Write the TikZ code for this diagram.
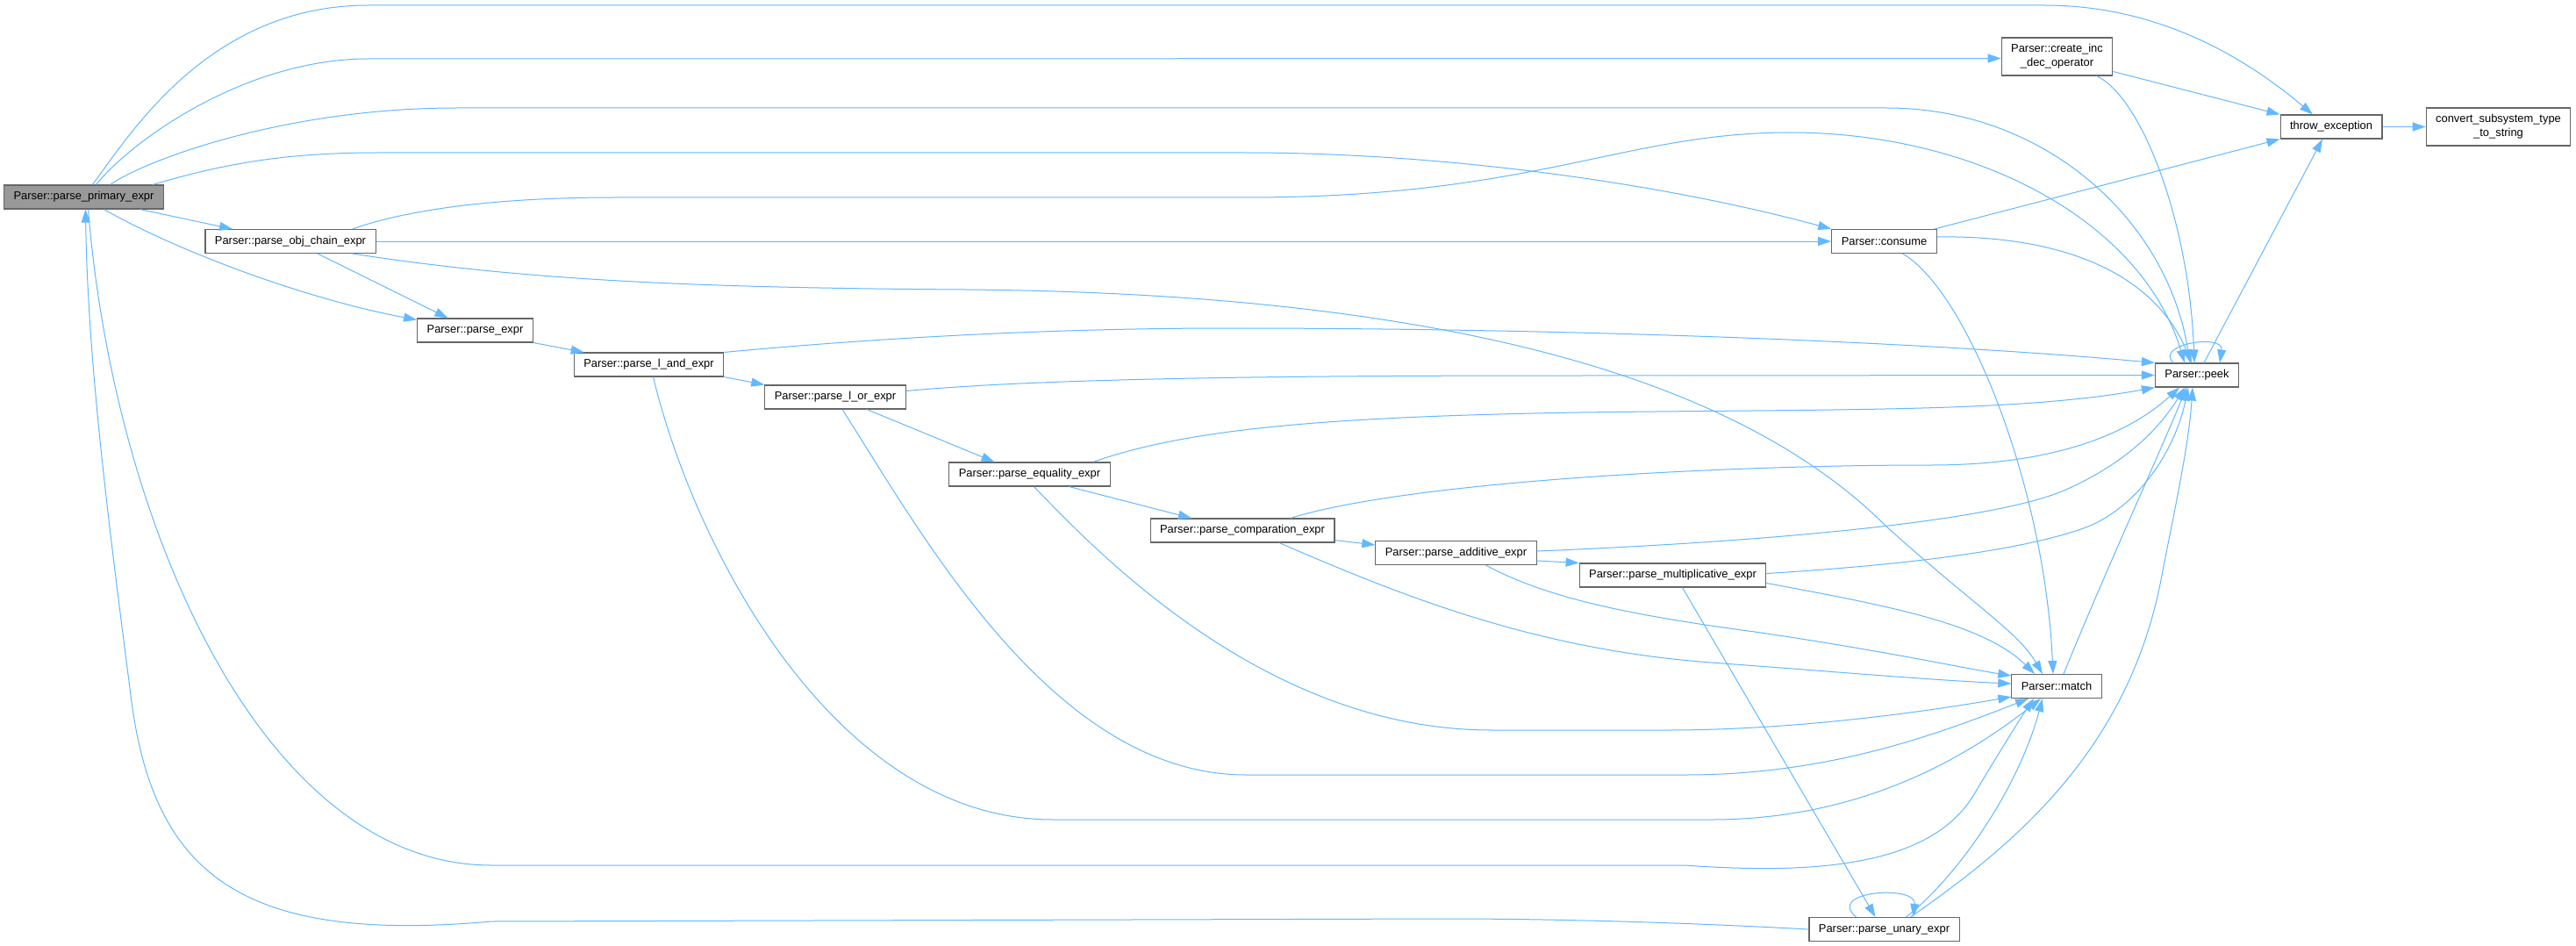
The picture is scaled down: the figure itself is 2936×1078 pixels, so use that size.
\documentclass[tikz,border=0pt]{standalone}
\usepackage{fontspec}
\setmainfont{Liberation Sans}
\usetikzlibrary{arrows.meta}
\definecolor{edgeblue}{RGB}{99,184,255}
\definecolor{boxline}{RGB}{102,102,102}
\definecolor{curfill}{RGB}{153,153,153}
\tikzstyle{fnbox}=[draw=boxline, fill=white, line width=1.1pt, font=\fontsize{12.9}{16}\selectfont,
inner xsep=11pt, inner ysep=4pt, minimum height=27pt, align=center, text=black]
\tikzstyle{curbox}=[fnbox, fill=curfill]
\tikzstyle{call}=[-{Triangle[length=15pt,width=10pt]}, draw=edgeblue, line width=1pt]

\begin{document}
\begin{tikzpicture}[x=1pt, y=-1pt]

    \fill[white] (0,0) rectangle (2936,1078);
    \useasboundingbox (0,0) rectangle (2936,1078);

    \node[curbox] (primary) at (95.5,224.5) {Parser::parse\_primary\_expr};
    \node[fnbox] (objchain) at (331,275) {Parser::parse\_obj\_chain\_expr};
    \node[fnbox] (expr) at (541.5,376.5) {Parser::parse\_expr};
    \node[fnbox] (land) at (739.5,415.5) {Parser::parse\_l\_and\_expr};
    \node[fnbox] (lor) at (952,452.5) {Parser::parse\_l\_or\_expr};
    \node[fnbox] (equality) at (1173.5,540.5) {Parser::parse\_equality\_expr};
    \node[fnbox] (comparation) at (1416,604.5) {Parser::parse\_comparation\_expr};
    \node[fnbox] (additive) at (1659.5,630) {Parser::parse\_additive\_expr};
    \node[fnbox] (multiplicative) at (1906.5,655.5) {Parser::parse\_multiplicative\_expr};
    \node[fnbox] (unary) at (2147.5,1059) {Parser::parse\_unary\_expr};
    \node[fnbox] (consume) at (2147.5,275) {Parser::consume};
    \node[fnbox, minimum height=43pt] (incdec) at (2344.5,64.5) {Parser::create\_inc\\\_dec\_operator};
    \node[fnbox] (peek) at (2504,427.5) {Parser::peek};
    \node[fnbox] (match) at (2344,782) {Parser::match};
    \node[fnbox] (throw) at (2657,144.5) {throw\_exception};
    \node[fnbox, minimum height=43pt] (convert) at (2847.5,144.5) {convert\_subsystem\_type\\\_to\_string};

    % parse_primary_expr
    \draw[call] ([xshift=10]primary.north) .. controls (150,150) and (240,6) .. (420,6) -- (2330,6) .. controls (2470,6) and (2570,75) .. ([xshift=-21]throw.north);
    \draw[call] ([xshift=14]primary.north) .. controls (150,160) and (280,67) .. (420,67) -- ([yshift=-2]incdec.west);
    \draw[call] ([xshift=30]primary.north) .. controls (170,180) and (330,123) .. (520,123) -- (2150,123) .. controls (2330,123) and (2470,250) .. ([xshift=-8]peek.north);
    \draw[call] ([xshift=-13]primary.north east) .. controls (260,185) and (330,174) .. (430,174) -- (1420,174) .. controls (1650,174) and (1900,210) .. (consume.north west);
    \draw[call] ([xshift=64]primary.south) -- ([xshift=-66]objchain.north);
    \draw[call] ([xshift=23]primary.south) .. controls (200,285) and (345,340) .. ([yshift=-2]expr.north west);
    \draw[call] ([xshift=5]primary.south) .. controls (130,600) and (300,986) .. (560,986) -- (1920,986) .. controls (2060,996) and (2200,990) .. (2250,905) .. controls (2280,855) and (2305,815) .. ([xshift=-26]match.south);

    % parse_obj_chain_expr
    \draw[call] ([xshift=71]objchain.north) .. controls (460,240) and (560,225) .. (700,225) -- (1420,225) .. controls (1750,225) and (1850,151) .. (2040,151) .. controls (2250,151) and (2440,250) .. ([xshift=-14]peek.north);
    \draw[call] (objchain.east) -- (consume.west);
    \draw[call] ([xshift=71]objchain.south) .. controls (600,320) and (800,328) .. (1100,330) .. controls (1700,335) and (2000,450) .. (2150,600) .. controls (2250,690) and (2300,720) .. ([xshift=-16]match.north);
    \draw[call] ([xshift=31]objchain.south) -- ([xshift=-31]expr.north);

    \draw[call] (expr.south east) -- ([xshift=12]land.north west);

    \draw[call] (land.north east) .. controls (1000,385) and (1200,374) .. (1400,374) .. controls (1800,374) and (2200,390) .. (peek.north west);
    \draw[call] (land.south east) -- (lor.north west);
    \draw[call] ([xshift=5]land.south) .. controls (790,620) and (950,934) .. (1200,934) -- (1950,934) .. controls (2100,934) and (2220,880) .. ([xshift=-18]match.south);

    \draw[call] ([yshift=7]lor.east) .. controls (1200,430) and (1500,428) .. (1800,428) -- (peek.west);
    \draw[call] ([xshift=36]lor.south) -- ([xshift=-40]equality.north);
    \draw[call] ([xshift=8]lor.south) .. controls (1050,607) and (1200,883) .. (1420,883) -- (1920,883) .. controls (2080,883) and (2200,840) .. ([xshift=-32]match.south);

    \draw[call] ([xshift=-20]equality.north east) .. controls (1350,490) and (1500,475) .. (1800,470) .. controls (2100,466) and (2300,470) .. (peek.south west);
    \draw[call] ([xshift=45]equality.south) -- ([xshift=-58]comparation.north);
    \draw[call] ([xshift=5]equality.south) .. controls (1260,640) and (1450,832) .. (1700,832) -- (1900,832) .. controls (2050,832) and (2200,810) .. ([yshift=2]match.south west);

    \draw[call] ([xshift=55]comparation.north) .. controls (1600,550) and (1950,530) .. (2200,530) .. controls (2330,530) and (2420,500) .. ([xshift=-20]peek.south);
    \draw[call] ([yshift=3]comparation.south east) -- ([yshift=-5]additive.north west);
    \draw[call] ([xshift=42]comparation.south) .. controls (1600,680) and (1750,740) .. (1950,755) .. controls (2100,766) and (2200,775) .. ([yshift=3]match.west);

    \draw[call] ([yshift=2]additive.east) .. controls (1950,620) and (2250,600) .. (2350,560) .. controls (2420,530) and (2460,490) .. ([xshift=-14]peek.south);
    \draw[call] ([yshift=-9]additive.east) -- (multiplicative.north west);
    \draw[call] ([xshift=34]additive.south) .. controls (1760,680) and (1850,700) .. (2000,720) .. controls (2150,742) and (2230,760) .. ([yshift=12]match.west);

    \draw[call] ([yshift=2]multiplicative.east) .. controls (2150,645) and (2300,630) .. (2380,600) .. controls (2440,575) and (2480,510) .. ([xshift=-10]peek.south);
    \draw[call] ([yshift=-9]multiplicative.east) .. controls (2150,690) and (2260,710) .. ([xshift=-25]match.north);
    \draw[call] ([xshift=11]multiplicative.south) -- ([xshift=-10]unary.north);

    % parse_unary_expr
    \draw[call] ([xshift=-32]unary.north) .. controls (2080,1015) and (2185,1008) .. ([xshift=33]unary.north);
    \draw[call] ([xshift=25]unary.north) .. controls (2230,1000) and (2300,900) .. ([xshift=-16]match.south);
    \draw[call] ([xshift=30]unary.north) .. controls (2300,960) and (2430,850) .. (2465,650) .. controls (2485,550) and (2495,500) .. ([xshift=-5]peek.south);
    \draw[call] (unary.west) .. controls (1900,1050) and (1750,1047) .. (1650,1047) -- (560,1050) .. controls (280,1075) and (177,1000) .. (150,800) .. controls (127,620) and (100,420) .. ([xshift=2]primary.south);

    \draw[call] ([xshift=-3]consume.north east) -- (throw.south west);
    \draw[call] ([yshift=5]consume.east) .. controls (2330,268) and (2450,300) .. ([xshift=-6]peek.north);
    \draw[call] ([xshift=21]consume.south) .. controls (2240,330) and (2330,550) .. ([xshift=-4]match.north);

    \draw[call] ([yshift=-17]incdec.east) -- (throw.north west);
    \draw[call] ([xshift=45]incdec.south) .. controls (2440,110) and (2495,250) .. ([xshift=-3]peek.north);

    \draw[call] ([xshift=-27]peek.north) .. controls (2455,392) and (2535,380) .. ([xshift=26]peek.north);
    \draw[call] ([xshift=8]peek.north) -- ([xshift=-10]throw.south);
    \draw[call] ([xshift=8]match.north) .. controls (2400,650) and (2460,520) .. ([xshift=-12]peek.south);

    \draw[call] (throw.east) -- (convert.west);

\end{tikzpicture}
\end{document}
